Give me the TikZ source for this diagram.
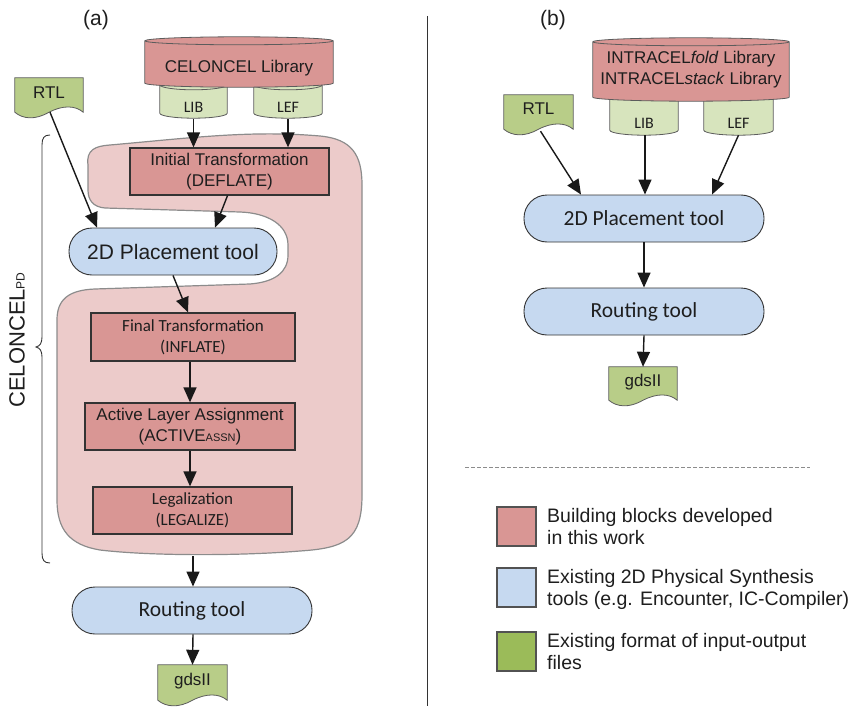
\documentclass[tikz,border=0pt]{standalone}
\usepackage{fontspec}
\setmainfont{Liberation Sans}
\newfontfamily\calfont{Carlito}
\usetikzlibrary{arrows.meta,calc}
\pgfdeclarelayer{bg}
\pgfsetlayers{bg,main}
\definecolor{redblk}{HTML}{D99694}
\definecolor{pinkbg}{HTML}{ECCBCA}
\definecolor{bluetool}{HTML}{C6D9F0}
\definecolor{greendoc}{HTML}{B8CD88}
\definecolor{greenleg}{HTML}{9BBB59}
\definecolor{greencyl}{HTML}{D7E4BD}
\definecolor{edgec}{HTML}{333333}
\definecolor{txtc}{HTML}{1E1E1E}
\newcommand\cylshape[3]{%
 \path[fill=#3, draw=edgec!80, line width=0.8pt] let \p1=(#1.north west), \p2=(#1.south east), \n1={(\x2-\x1)/2} in
 (\p1) -- (\x1,\y2) arc[start angle=180, end angle=360, x radius=\n1, y radius=#2] -- (\x2,\y1) arc[start angle=0, end angle=180, x radius=\n1, y radius=#2] -- cycle
 (\p1) arc[start angle=180, end angle=360, x radius=\n1, y radius=#2];
}
\newcommand\docshape[2]{%
 \path[fill=#2, draw=edgec!80, line width=0.8pt] let \p1=(#1.north west), \p2=(#1.south east), \n1={\x2-\x1} in
 (\p1) -- (\x2,\y1) -- (\x2,\y2) .. controls ({\x2-0.12*\n1},{\y2+7}) and ({\x1+0.7*\n1},{\y2+7}) .. ({\x1+0.5*\n1},{\y2}) .. controls ({\x1+0.3*\n1},{\y2-8}) and ({\x1+0.12*\n1},{\y2-7}) .. (\x1,\y2) -- cycle;
}
\begin{document}
\begin{tikzpicture}[x=1pt,y=-1pt,
  every node/.style={text=txtc},
  ar17/.style={font=\fontsize{17}{21}\selectfont},
  ar21/.style={font=\fontsize{21}{25}\selectfont},
  ca16/.style={font=\calfont\fontsize{16}{19}\selectfont},
  ca17/.style={font=\calfont\fontsize{17}{21}\selectfont},
  ca21/.style={font=\calfont\fontsize{21.5}{25}\selectfont},
  leg/.style={font=\fontsize{19.5}{22}\selectfont, align=left, anchor=west, inner sep=0},
  shp/.style={inner sep=0, draw=none},
  redbox/.style={draw=edgec, line width=1.3pt, fill=redblk, minimum height=47, inner sep=0, align=center},
  tool/.style={draw=edgec, line width=0.9pt, fill=bluetool, rounded corners=23, minimum height=47, inner sep=0},
  legsq/.style={draw=edgec!85, line width=1.2pt, minimum width=39, minimum height=39, inner sep=0},
  arr/.style={-{Triangle[length=15pt,width=13pt]}, line width=1.4pt, draw=black!90}]
\useasboundingbox (0,0) rectangle (850,706);

% ---------- (a) ----------
\node[ar21] (lbla) at (96,20) {(a)};
\node[shp, minimum width=188, minimum height=42] (celib) at (239,62) {};
\node[ar17] (celibt) at (239,68) {CELONCEL Library};
\node[shp, minimum width=67, minimum height=28] (libA) at (193.5,99) {};
\node[ca16] (libAt) at (193.5,107) {LIB};
\node[shp, minimum width=68, minimum height=28] (lefA) at (288,99) {};
\node[ca16] (lefAt) at (288,107) {LEF};
\node[shp, minimum width=68, minimum height=34] (rtlA) at (49,95) {};
\node[ar17] (rtlAt) at (49,93) {RTL};

\node[redbox, minimum width=199, ar17] (init) at (229.5,171.5) {Initial Transformation\\(DEFLATE)};
\node[tool, minimum width=208, ar21] (placeA) at (173,251.5) {2D Placement tool};
\node[redbox, minimum width=204, minimum height=48, ca17] (final) at (193,337) {Final Transformation\\(INFLATE)};
\node[redbox, minimum width=210, ar17] (active) at (190,426.5) {Active Layer Assignment\\(ACTIVE{\fontsize{11}{11}\selectfont ASSN})};
\node[redbox, minimum width=199, ca17] (legal) at (192.5,510.5) {Legalization\\(LEGALIZE)};
\coordinate (blobbot) at (193,556);
\node[tool, minimum width=240, ca21] (routeA) at (192,610.5) {Routing tool};
\node[shp, minimum width=69, minimum height=35] (gdsA) at (192.5,682.5) {};
\node[ar17] (gdsAt) at (192.5,681) {gdsII};

\node[rotate=90, font=\fontsize{22}{26}\selectfont] (celpd) at (17,340) {CELONCEL{\fontsize{12}{12}\selectfont PD}};

% brace
\coordinate (brt) at (50,135);
\coordinate (brb) at (50,563);
\draw[line width=0.9pt, edgec] (brt) .. controls (44,135) and (42,138) .. (42,145) -- (42,337)
  .. controls (42,343) and (40,346) .. (36,347) .. controls (40,348) and (42,351) .. (42,357)
  -- (42,553) .. controls (42,560) and (44,563) .. (brb);

% ---------- (b) ----------
\node[ar21] (lblb) at (553,20) {(b)};
\node[shp, minimum width=196, minimum height=55] (inlib) at (691,69.5) {};
\node[ar17, align=center] (inlibt) at (691,70) {INTRACEL\textit{fold} Library\\INTRACEL\textit{stack} Library};
\node[shp, minimum width=68, minimum height=35] (libB) at (644,112.5) {};
\node[ca16] (libBt) at (644,123) {LIB};
\node[shp, minimum width=69, minimum height=35] (lefB) at (738.5,112.5) {};
\node[ca16] (lefBt) at (738.5,123) {LEF};
\node[shp, minimum width=69, minimum height=34] (rtlB) at (538.5,112) {};
\node[ar17] (rtlBt) at (538.5,109) {RTL};
\node[tool, minimum width=240, ca21] (placeB) at (644,218.5) {2D Placement tool};
\node[tool, minimum width=240, ca21] (routeB) at (644,311.5) {Routing tool};
\node[shp, minimum width=68, minimum height=33] (gdsB) at (643,383.5) {};
\node[ar17] (gdsBt) at (643,382) {gdsII};

% separator and dashed rule
\coordinate (sept) at (427,16);
\coordinate (sepb) at (427,706);
\draw[line width=1pt, edgec] (sept) -- (sepb);
\coordinate (dl) at (465,467);
\coordinate (dr) at (810,467);
\draw[line width=1pt, black!45, dash pattern=on 4pt off 2pt] (dl) -- (dr);

% legend
\node[legsq, fill=redblk] (lg1) at (516.5,526.5) {};
\node[leg] (lg1t) at (547,527) {Building blocks developed\\in this work};
\node[legsq, fill=bluetool] (lg2) at (516.5,587.5) {};
\node[leg] (lg2t) at (547,589) {Existing 2D Physical Synthesis\\tools (e.g. Encounter, IC-Compiler)};
\node[legsq, fill=greenleg] (lg3) at (516.5,651.5) {};
\node[leg] (lg3t) at (547,652) {Existing format of input-output\\files};

% ---------- background shapes ----------
\begin{pgfonlayer}{bg}
\path[fill=pinkbg, draw=black!45, line width=1.2pt]
  (88,165) .. controls (86,150) and (95,146) .. (110,145)
  .. controls (190,138) and (250,130) .. (320,136)
  .. controls (352,139) and (362,155) .. (362,185)
  -- (362,495)
  .. controls (362,540) and (345,548) .. (300,551)
  .. controls (240,556) and (150,556) .. (100,550)
  .. controls (70,545) and (57,530) .. (57,500)
  -- (57,320)
  .. controls (57,300) and (68,290) .. (95,289)
  -- (250,284)
  .. controls (275,282) and (288,272) .. (288,255)
  -- (288,245)
  .. controls (288,225) and (268,213) .. (240,212)
  -- (105,208)
  .. controls (93,207) and (88,200) .. (88,190)
  -- cycle;
\cylshape{libA}{5pt}{greencyl}
\cylshape{lefA}{5pt}{greencyl}
\cylshape{libB}{5pt}{greencyl}
\cylshape{lefB}{5pt}{greencyl}
\cylshape{celib}{4pt}{redblk}
\cylshape{inlib}{4pt}{redblk}
\docshape{rtlA}{greendoc}
\docshape{gdsA}{greendoc}
\docshape{rtlB}{greendoc}
\docshape{gdsB}{greendoc}
\end{pgfonlayer}

% ---------- connectors ----------
\draw[arr] ($(libA.south)+(0,6)$) -- (libA.south |- init.north);
\draw[arr] ($(lefA.south)+(0,6)$) -- (lefA.south |- init.north);
\draw[arr] ($(rtlA.south)+(1,0)$) -- ($(placeA.north)+(-76,0)$);
\draw[arr] ($(init.south)+(-2,0)$) -- ($(placeA.north)+(42,0)$);
\draw[arr] (placeA.south) -- ($(final.north)+(-5,0)$);
\draw[arr] ($(final.south)+(-3,0)$) -- ($(active.north)+(0,0)$);
\draw[arr] (active.south) -- (active.south |- legal.north);
\draw[arr] (blobbot) -- (blobbot |- routeA.north);
\draw[arr] ($(routeA.south)+(1,0)$) -- (gdsA.north);

\draw[arr] ($(rtlB.south)+(2,2)$) -- ($(placeB.north)+(-63,0)$);
\draw[arr] ($(libB.south)+(1,5)$) -- ($(placeB.north)+(1,0)$);
\draw[arr] ($(lefB.south)+(0,5)$) -- ($(placeB.north)+(68,0)$);
\draw[arr] (placeB.south) -- (routeB.north);
\draw[arr] (routeB.south) -- ($(gdsB.north)+(0,0)$);
\end{tikzpicture}
\end{document}
